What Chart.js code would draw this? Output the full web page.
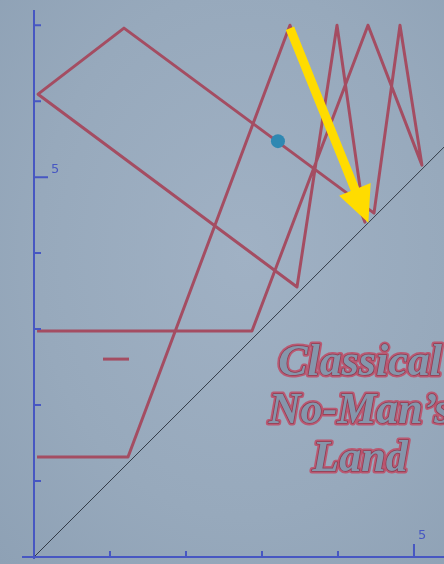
<!DOCTYPE html>
<html>
<head>
<meta charset="utf-8">
<script src="https://cdn.jsdelivr.net/npm/chart.js@4.4.1/dist/chart.umd.min.js"></script>
<style>
  html, body { margin: 0; padding: 0; }
  body { background: radial-gradient(ellipse at 55% 45%, #a0b1c4 0%, #97a9bc 60%, #8ea1b5 100%); }
  #wrap { width: 444px; height: 564px; position: relative; }
</style>
</head>
<body>
<div id="wrap"><canvas id="orbitChart"></canvas></div>
<script>
// orbit path (x, y in axis units)
const pathX = [0.04, 1.237, 3.368, 4.355, 3.987, 3.461, 0.053, 1.184, 4.474, 4.816, 5.105, 4.395, 2.868, 0.04];
const pathY = [1.316, 1.316, 7.0, 4.408, 7.0, 3.553, 6.092, 6.961, 4.526, 7.0, 5.158, 7.0, 2.974, 2.974];

// little dash
const dashX = [0.908, 1.25];
const dashY = [2.605, 2.605];

// y = x diagonal
const diagX = [0, 5.6];
const diagY = [0, 5.6];

// blue point
const dotX = [3.21];
const dotY = [5.474];

// yellow arrow, from -> to
const arrowFrom = [3.368, 6.96];
const arrowTo = [4.4, 4.4];

// axis ticks
const xTicks = [1, 2, 3, 4, 5];
const yTicks = [1, 2, 3, 4, 5, 6, 7];
const majorTick = 5;

const textLines = ["Classical", "No-Man\u2019s", "Land"];
const textX = 4.29;
const textY = [2.40, 1.77, 1.13];

const toPts = (xs, ys) => xs.map((x, i) => ({x: x, y: ys[i]}));

const redColor = "#a44d62";
const axisColor = "#4757c2";

const decorPlugin = {
    id: "decor",
    beforeDatasetsDraw(chart) {
        const ctx = chart.ctx;
        const xs = chart.scales.x, ys = chart.scales.y;
        ctx.save();
        ctx.font = "bold italic 44px 'Liberation Serif'";
        ctx.textAlign = "center";
        ctx.textBaseline = "alphabetic";
        ctx.lineJoin = "round";
        textLines.forEach((t, i) => {
            const px = xs.getPixelForValue(textX);
            const py = ys.getPixelForValue(textY[i]);
            ctx.lineWidth = 5;
            ctx.strokeStyle = "rgba(190, 80, 105, 0.9)";
            ctx.strokeText(t, px, py);
            ctx.lineWidth = 1.5;
            ctx.strokeStyle = "#8d3c52";
            ctx.strokeText(t, px, py);
            ctx.fillStyle = "#8596ab";
            ctx.fillText(t, px, py);
        });
        ctx.restore();
    },
    afterDatasetsDraw(chart) {
        const ctx = chart.ctx;
        const xs = chart.scales.x, ys = chart.scales.y;

        // arrow
        const x0 = xs.getPixelForValue(arrowFrom[0]), y0 = ys.getPixelForValue(arrowFrom[1]);
        const x1 = xs.getPixelForValue(arrowTo[0]), y1 = ys.getPixelForValue(arrowTo[1]);
        const len = Math.hypot(x1 - x0, y1 - y0);
        const ux = (x1 - x0) / len, uy = (y1 - y0) / len;
        const nx = -uy, ny = ux;
        const headLen = 36, headW = 17, shaftW = 4.5;
        const bx = x1 - ux * headLen, by = y1 - uy * headLen;
        ctx.save();
        ctx.fillStyle = "#ffdc00";
        ctx.beginPath();
        ctx.moveTo(x0 + nx * shaftW, y0 + ny * shaftW);
        ctx.lineTo(bx + nx * shaftW, by + ny * shaftW);
        ctx.lineTo(bx + nx * headW, by + ny * headW);
        ctx.lineTo(x1, y1);
        ctx.lineTo(bx - nx * headW, by - ny * headW);
        ctx.lineTo(bx - nx * shaftW, by - ny * shaftW);
        ctx.lineTo(x0 - nx * shaftW, y0 - ny * shaftW);
        ctx.closePath();
        ctx.fill();
        ctx.restore();
    },
    afterDraw(chart) {
        const ctx = chart.ctx;
        const xs = chart.scales.x, ys = chart.scales.y;
        const ox = xs.getPixelForValue(0), oy = ys.getPixelForValue(0);
        ctx.save();
        ctx.strokeStyle = axisColor;
        ctx.fillStyle = axisColor;
        ctx.lineWidth = 2;
        ctx.beginPath();
        ctx.moveTo(ox, chart.chartArea.top);
        ctx.lineTo(ox, oy + 2);
        ctx.moveTo(ox - 12, oy);
        ctx.lineTo(chart.width, oy);
        yTicks.forEach(v => {
            const py = ys.getPixelForValue(v);
            ctx.moveTo(ox, py);
            ctx.lineTo(ox + (v === majorTick ? 14 : 7), py);
        });
        xTicks.forEach(v => {
            const px = xs.getPixelForValue(v);
            ctx.moveTo(px, oy);
            ctx.lineTo(px, oy - (v === majorTick ? 13 : 6));
        });
        ctx.stroke();
        ctx.font = "13px 'DejaVu Sans'";
        ctx.textBaseline = "middle";
        ctx.textAlign = "left";
        ctx.fillText(String(majorTick), ox + 17, ys.getPixelForValue(majorTick) - 8);
        ctx.fillText(String(majorTick), xs.getPixelForValue(majorTick) + 4, oy - 21);
        ctx.restore();
    }
};

new Chart(document.getElementById("orbitChart"), {
    type: "scatter",
    data: {
        datasets: [
            {
                label: "diagonal",
                data: toPts(diagX, diagY),
                showLine: true,
                borderColor: "#333b47",
                borderWidth: 1,
                pointRadius: 0
            },
            {
                label: "orbit",
                data: toPts(pathX, pathY),
                showLine: true,
                borderColor: redColor,
                borderWidth: 3,
                borderJoinStyle: "round",
                pointRadius: 0,
                tension: 0
            },
            {
                label: "dash",
                data: toPts(dashX, dashY),
                showLine: true,
                borderColor: redColor,
                borderWidth: 3,
                pointRadius: 0
            },
            {
                label: "point",
                data: toPts(dotX, dotY),
                pointRadius: 7,
                pointBackgroundColor: "#2f88b2",
                pointBorderWidth: 0,
                order: -1
            }
        ]
    },
    options: {
        responsive: true,
        maintainAspectRatio: false,
        animation: false,
        layout: { autoPadding: false, padding: { left: 34, top: 10, right: 0, bottom: 7 } },
        plugins: { legend: { display: false }, tooltip: { enabled: false } },
        scales: {
            x: { type: "linear", min: 0, max: 5.395, display: false },
            y: { type: "linear", min: 0, max: 7.2, display: false }
        }
    },
    plugins: [decorPlugin]
});
</script>
</body>
</html>
